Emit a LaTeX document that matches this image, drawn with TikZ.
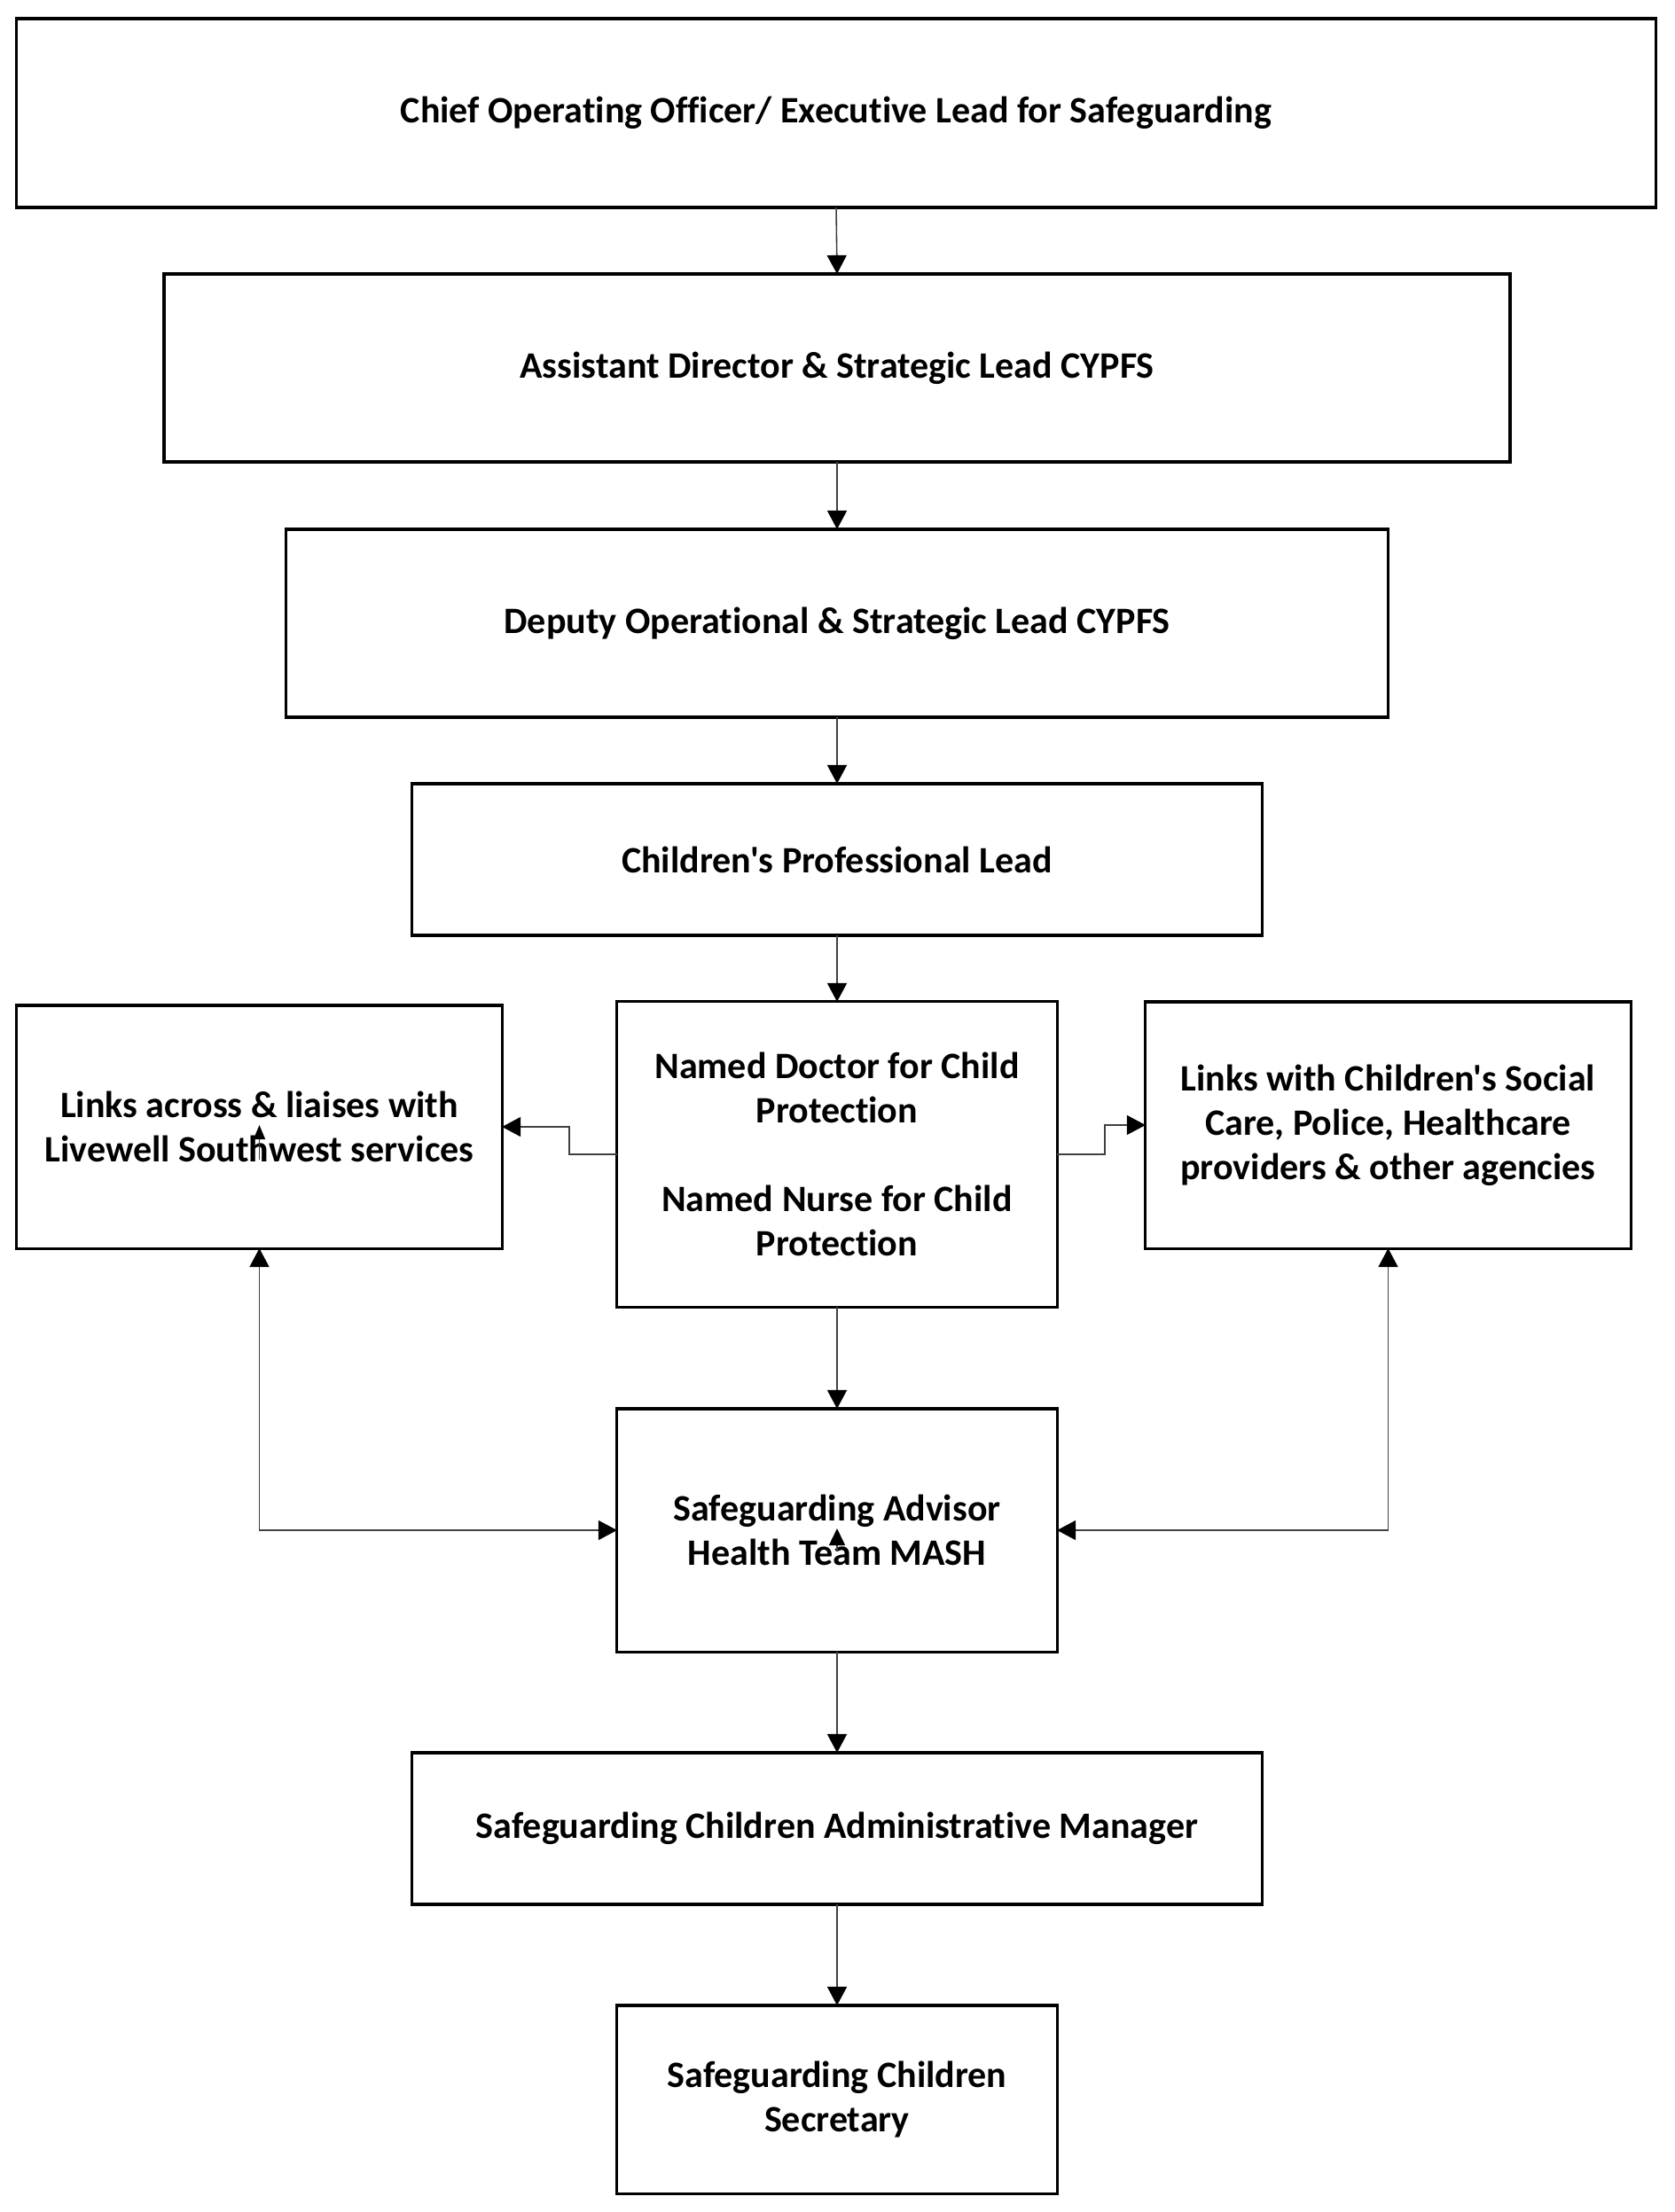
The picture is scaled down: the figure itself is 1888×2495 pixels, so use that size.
\documentclass[tikz,border=0pt]{standalone}
\usepackage{fontspec}
\setmainfont{Carlito}[Ligatures={TeXOff,NoCommon}]
\usetikzlibrary{arrows.meta}
\begin{document}
\begin{tikzpicture}[x=0.01cm, y=-0.01cm,
  box/.style={draw=black, line width=0.9pt, inner sep=0pt, outer sep=0pt,
    align=center, font=\bfseries\fontsize{11.95}{14.2}\selectfont},
  conn/.style={draw=black!75, line width=0.45pt},
  tip/.style={-{Triangle[width=0.22cm, length=0.21cm, color=black]}},
  bitip/.style={{Triangle[width=0.22cm, length=0.21cm, color=black]}-{Triangle[width=0.22cm, length=0.21cm, color=black]}}
]
\useasboundingbox (0,0) rectangle (1888,2495);
\node[box, minimum width=18.48cm, minimum height=2.13cm] (B1) at (943,127.5)
  {Chief Operating Officer/ Executive Lead for Safeguarding};
\node[box, minimum width=15.17cm, minimum height=2.12cm] (B2) at (944,415)
  {Assistant Director \& Strategic Lead CYPFS};
\node[box, minimum width=12.42cm, minimum height=2.12cm] (B3) at (944,703)
  {Deputy Operational \& Strategic Lead CYPFS};
\node[box, minimum width=9.58cm, minimum height=1.71cm] (B4) at (944,969.5)
  {Children's Professional Lead};
\node[box, minimum width=4.96cm, minimum height=3.44cm] (N) at (944,1302)
  {Named Doctor for Child\\Protection\\[14.2pt]Named Nurse for Child\\Protection};
\node[box, minimum width=5.47cm, minimum height=2.74cm] (L) at (292.5,1271)
  {Links across \& liaises with\\Livewell Southwest services};
\node[box, minimum width=5.47cm, minimum height=2.78cm] (R) at (1565.5,1269)
  {Links with Children's Social\\Care, Police, Healthcare\\providers \& other agencies};
\node[box, minimum width=4.96cm, minimum height=2.74cm] (M) at (944,1726)
  {Safeguarding Advisor\\Health Team MASH};
\node[box, minimum width=9.58cm, minimum height=1.71cm] (A) at (944,2062.5)
  {Safeguarding Children Administrative Manager};
\node[box, minimum width=4.96cm, minimum height=2.12cm] (S) at (944,2368)
  {Safeguarding Children\\Secretary};

\draw[conn, tip] (B1.south) -- (B2.north);
\draw[conn, tip] (B2.south) -- (B3.north);
\draw[conn, tip] (B3.south) -- (B4.north);
\draw[conn, tip] (B4.south) -- (N.north);
\draw[conn, tip] (N.south) -- (M.north);
\draw[conn, tip] (M.south) -- (A.north);
\draw[conn, tip] (A.south) -- (S.north);

\draw[conn, tip] (N.west) -- ++(-54,0) |- (L.east);
\draw[conn, tip] (N.east) -- ++(54,0) |- (R.west);

\draw[conn, bitip] (L.south) |- (M.west);
\draw[conn, bitip] (R.south) |- (M.east);

% stray arrowheads as printed in the reference
\draw[conn, -{Triangle[width=0.13cm, length=0.16cm, color=black]}]
  ([yshift=-0.37cm]L.center) -- ([yshift=0.02cm]L.center);
\draw[conn, -{Triangle[width=0.18cm, length=0.19cm, color=black]}]
  ([yshift=-0.24cm]M.center) -- ([yshift=0.02cm]M.center);
\end{tikzpicture}
\end{document}
